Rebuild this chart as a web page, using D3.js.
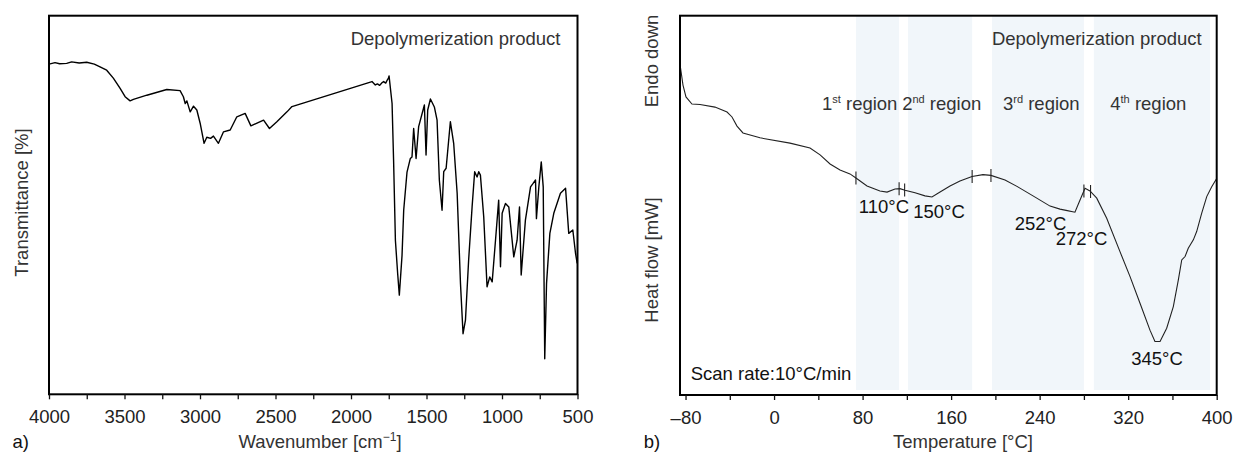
<!DOCTYPE html>
<html>
<head>
<meta charset="utf-8">
<script src="https://cdn.jsdelivr.net/npm/d3@7"></script>
<style>
	body { margin: 0; background: #fff; }
	text { font-family: 'Liberation Sans', Arial, Helvetica, sans-serif; }
</style>
</head>
<body>
<div id="chart"></div>
<script>
// Panel a) IR spectrum
const irWavenumber = [4000, 3960, 3930, 3883, 3850, 3800, 3750, 3700, 3662, 3618, 3574, 3529, 3496, 3463, 3441,
	3352, 3220, 3132, 3110, 3098, 3087, 3065, 3043, 3021, 2999, 2973, 2955, 2930, 2911, 2878, 2845, 2800, 2756,
	2701, 2663, 2579, 2540, 2491, 2424, 2391, 1861, 1839, 1825, 1810, 1795, 1784, 1770, 1760, 1752, 1748, 1728,
	1718, 1706, 1691, 1680, 1662, 1651, 1629, 1607, 1596, 1585, 1569, 1552, 1514, 1503, 1492, 1474, 1448, 1430,
	1415, 1397, 1386, 1370, 1342, 1320, 1297, 1275, 1258, 1242, 1221, 1198, 1181, 1165, 1154, 1143, 1121, 1099,
	1081, 1065, 1043, 1022, 1010, 999, 977, 955, 922, 900, 884, 873, 845, 811, 794, 778, 772, 756, 740, 727, 717,
	705, 683, 657, 613, 579, 558, 531, 513, 502];
const irTransmittance = [87.2, 87.6, 87.3, 87.4, 87.8, 87.5, 87.7, 87.2, 86.5, 85.6, 83.5, 80.8, 78.6, 77.5, 77.9,
	79.0, 80.5, 80.2, 78.6, 76.8, 77.5, 74.6, 76.1, 75.1, 71.6, 66.3, 67.9, 67.6, 68.2, 66.3, 69.3, 69.8, 73.3,
	74.2, 70.9, 72.4, 70.2, 72.0, 74.6, 76.0, 82.6, 81.7, 82.0, 81.6, 82.3, 82.6, 82.2, 83.0, 83.5, 84.1, 76.8,
	61.9, 40.7, 31.9, 26.2, 36.7, 48.6, 58.7, 62.3, 62.7, 70.2, 62.3, 70.7, 76.4, 63.2, 75.1, 78.0, 75.9, 72.4,
	56.6, 48.6, 58.8, 59.7, 72.0, 66.3, 53.1, 29.3, 16.0, 19.6, 35.4, 49.5, 58.8, 57.4, 58.8, 57.9, 46.9, 28.4,
	31.0, 29.7, 40.7, 51.3, 33.7, 47.8, 50.4, 49.5, 36.3, 40.7, 49.5, 31.5, 46.0, 54.8, 55.7, 56.6, 46.4, 54.8,
	61.4, 54.8, 9.4, 29.3, 42.5, 47.8, 53.1, 54.4, 42.5, 43.4, 37.2, 34.6];
const irTicks = [4000, 3500, 3000, 2500, 2000, 1500, 1000, 500];
const irMinorTicks = [3750, 3250, 2750, 2250, 1750, 1250, 750];

// Panel b) DSC curve
const dscTemperature = [-84.7, -82.3, -79.6, -74.2, -66.9, -53.4, -42.5, -38.0, -33.5, -28.1, -12.7, 14.4, 32.5,
	41.6, 50.6, 59.6, 68.6, 74.0, 84.0, 95.7, 102.1, 109.3, 113.8, 118.3, 127.4, 136.4, 142.7, 150.0, 159.0,
	168.0, 178.9, 188.8, 196.0, 208.7, 219.5, 234.0, 249.4, 258.4, 265.0, 271.9, 276.5, 281.0, 285.5, 291.6,
	300.6, 312.6, 321.7, 330.7, 339.7, 344.2, 348.8, 354.8, 360.8, 365.3, 368.4, 371.4, 374.3, 378.9, 381.9,
	386.4, 391.0, 395.5, 400.0];
const dscHeatFlow = [86.6, 81.7, 78.6, 76.7, 76.6, 75.9, 74.6, 73.3, 70.9, 69.1, 67.8, 66.4, 65.1,
	63.3, 60.9, 59.3, 58.3, 57.2, 55.1, 53.8, 53.5, 54.3, 54.4, 54.0, 53.3, 52.5, 52.2, 53.5, 55.1,
	56.4, 57.6, 58.1, 57.9, 56.7, 55.0, 52.5, 49.8, 49.0, 48.6, 48.2, 51.4, 54.5, 53.8, 51.9,
	46.6, 37.8, 31.2, 24.2, 17.1, 14.1, 14.1, 17.6, 23.3, 30.3, 35.6, 36.5, 38.7, 40.9, 43.1,
	47.9, 52.3, 54.9, 57.1];
const dscTicks = [-80, 0, 80, 160, 240, 320, 400];
const dscMinorTicks = [-40, 40, 120, 200, 280, 360];

// Shaded regions and their boundary marks on the curve [°C]
const regionStart = [74, 121, 197, 289];
const regionEnd = [113, 179, 280, 394];
const regionNumber = ['1', '2', '3', '4'];
const regionSuffix = ['st', 'nd', 'rd', 'th'];
const regionLabelTemp = [77.4, 151.5, 241.5, 338.2];
const boundaryMarks = [74, 113, 118, 179, 196, 280, 286];

// Peak annotations
const peakText = ['110°C', '150°C', '252°C', '272°C', '345°C'];
const peakTemp = [99.3, 149.0, 240.8, 277.8, 346.0];
const peakHeat = [48.0, 46.7, 43.5, 39.5, 7.9];

const width = 1235, height = 453;
const fontSize = 18.5;

const svg = d3.select('#chart').append('svg')
	.attr('width', width)
	.attr('height', height);

// Draws a bottom axis with labelled majors and unlabelled minors
function bottomAxis(x, yPos, major, minor, fmt) {
	svg.append('g')
		.attr('transform', 'translate(0,' + yPos + ')')
		.call(d3.axisBottom(x).tickValues(minor).tickSize(5).tickSizeOuter(0).tickFormat(''))
		.call(g => g.select('.domain').remove())
		.call(g => g.selectAll('line').attr('stroke', '#111').attr('stroke-width', 1.3));
	svg.append('g')
		.attr('transform', 'translate(0,' + yPos + ')')
		.call(d3.axisBottom(x).tickValues(major).tickSize(5).tickSizeOuter(0).tickPadding(11).tickFormat(fmt))
		.call(g => g.select('.domain').remove())
		.call(g => g.selectAll('line').attr('stroke', '#111').attr('stroke-width', 1.3))
		.call(g => g.selectAll('text')
			.attr('fill', '#222')
			.style('font-size', fontSize + 'px')
			.style('font-family', "'Liberation Sans', Arial, sans-serif"));
}

function frame(x0, x1, y0, y1) {
	svg.append('rect')
		.attr('x', x0).attr('y', y0)
		.attr('width', x1 - x0).attr('height', y1 - y0)
		.attr('fill', 'none')
		.attr('stroke', '#000')
		.attr('stroke-width', 2);
}

function label(x, y, txt, opts) {
	opts = opts || {};
	return svg.append('text')
		.attr('x', x).attr('y', y)
		.attr('text-anchor', opts.anchor || 'start')
		.attr('fill', opts.color || '#222')
		.style('font-size', (opts.size || fontSize) + 'px')
		.text(txt);
}

function vLabel(x, y, txt) {
	svg.append('text')
		.attr('transform', 'translate(' + x + ',' + y + ') rotate(-90)')
		.attr('text-anchor', 'middle')
		.attr('dy', '0.35em')
		.attr('fill', '#333')
		.style('font-size', fontSize + 'px')
		.text(txt);
}

//////////////////////// Panel a) ////////////////////////
const aBox = { x0: 49, x1: 577.5, y0: 15.7, y1: 394.3 };
const xIR = d3.scaleLinear().domain([4000, 500]).range([aBox.x0, aBox.x1]);
const yIR = d3.scaleLinear().domain([0, 100]).range([aBox.y1, aBox.y0]);

svg.append('clipPath').attr('id', 'clipA')
	.append('rect').attr('x', aBox.x0).attr('y', aBox.y0)
	.attr('width', aBox.x1 - aBox.x0).attr('height', aBox.y1 - aBox.y0);

const irLine = d3.line()
	.x(d => xIR(d[0]))
	.y(d => yIR(d[1]));

svg.append('path')
	.datum(irWavenumber.map((w, i) => [w, irTransmittance[i]]))
	.attr('clip-path', 'url(#clipA)')
	.attr('d', irLine)
	.attr('fill', 'none')
	.attr('stroke', '#000')
	.attr('stroke-width', 1.4)
	.attr('stroke-linejoin', 'round');

frame(aBox.x0, aBox.x1, aBox.y0, aBox.y1);
bottomAxis(xIR, aBox.y1, irTicks, irMinorTicks, d3.format('d'));

label(aBox.x1 - 17, 45, 'Depolymerization product', { anchor: 'end', color: '#333' });
vLabel(22, 202.5, 'Transmittance [%]');

const wn = label(320, 448, 'Wavenumber [cm', { anchor: 'middle', color: '#333' });
wn.append('tspan').attr('dy', -7).style('font-size', '12px').text('\u22121');
wn.append('tspan').attr('dy', 7).text(']');
label(12.5, 448, 'a)', { color: '#111' });

//////////////////////// Panel b) ////////////////////////
const bBox = { x0: 680, x1: 1216.7, y0: 15.7, y1: 395 };
const xT = d3.scaleLinear().domain([-85, 400]).range([bBox.x0, bBox.x1]);
const yHF = d3.scaleLinear().domain([0, 100]).range([bBox.y1, bBox.y0]);

// Shaded regions
svg.selectAll('.region')
	.data(regionStart)
	.enter()
	.append('rect')
		.attr('class', 'region')
		.attr('x', d => xT(d))
		.attr('width', (d, i) => xT(regionEnd[i]) - xT(d))
		.attr('y', bBox.y0)
		.attr('height', bBox.y1 - bBox.y0 - 5)
		.attr('fill', '#f1f6fa');

svg.append('clipPath').attr('id', 'clipB')
	.append('rect').attr('x', bBox.x0).attr('y', bBox.y0)
	.attr('width', bBox.x1 - bBox.x0).attr('height', bBox.y1 - bBox.y0);

const dscData = dscTemperature.map((t, i) => [t, dscHeatFlow[i]]);
const dscLine = d3.line()
	.x(d => xT(d[0]))
	.y(d => yHF(d[1]));

svg.append('path')
	.datum(dscData)
	.attr('clip-path', 'url(#clipB)')
	.attr('d', dscLine)
	.attr('fill', 'none')
	.attr('stroke', '#222')
	.attr('stroke-width', 1.1);

// Boundary marks sitting on the curve
const heatAt = d3.scaleLinear().domain(dscTemperature).range(dscHeatFlow);
svg.selectAll('.mark')
	.data(boundaryMarks)
	.enter()
	.append('line')
		.attr('class', 'mark')
		.attr('x1', d => xT(d)).attr('x2', d => xT(d))
		.attr('y1', d => yHF(heatAt(d)) - 6.5)
		.attr('y2', d => yHF(heatAt(d)) + 6.5)
		.attr('stroke', '#222')
		.attr('stroke-width', 1.1);

// Region labels with superscript suffix
const rl = svg.selectAll('.regionLabel')
	.data(regionNumber)
	.enter()
	.append('text')
		.attr('class', 'regionLabel')
		.attr('x', (d, i) => xT(regionLabelTemp[i]))
		.attr('y', 109.5)
		.attr('text-anchor', 'middle')
		.attr('fill', '#333')
		.style('font-size', fontSize + 'px');
rl.append('tspan').text(d => d);
rl.append('tspan').attr('dy', -7).style('font-size', '11px').text((d, i) => regionSuffix[i]);
rl.append('tspan').attr('dy', 7).text(' region');

// Peak temperatures
svg.selectAll('.peak')
	.data(peakText)
	.enter()
	.append('text')
		.attr('class', 'peak')
		.attr('x', (d, i) => xT(peakTemp[i]))
		.attr('y', (d, i) => yHF(peakHeat[i]))
		.attr('text-anchor', 'middle')
		.attr('fill', '#111')
		.style('font-size', fontSize + 'px')
		.text(d => d);

frame(bBox.x0, bBox.x1, bBox.y0, bBox.y1);
bottomAxis(xT, bBox.y1, dscTicks, dscMinorTicks, d => d < 0 ? '\u2013' + Math.abs(d) : d);

label(bBox.x1 - 15, 45, 'Depolymerization product', { anchor: 'end', color: '#333' });
label(690.7, 379.5, 'Scan rate:10°C/min', { color: '#111' });
vLabel(651.7, 61, 'Endo down');
vLabel(651.7, 260, 'Heat flow [mW]');
label(963, 448, 'Temperature [°C]', { anchor: 'middle', color: '#333' });
label(643.8, 448, 'b)', { color: '#111' });
</script>
</body>
</html>
